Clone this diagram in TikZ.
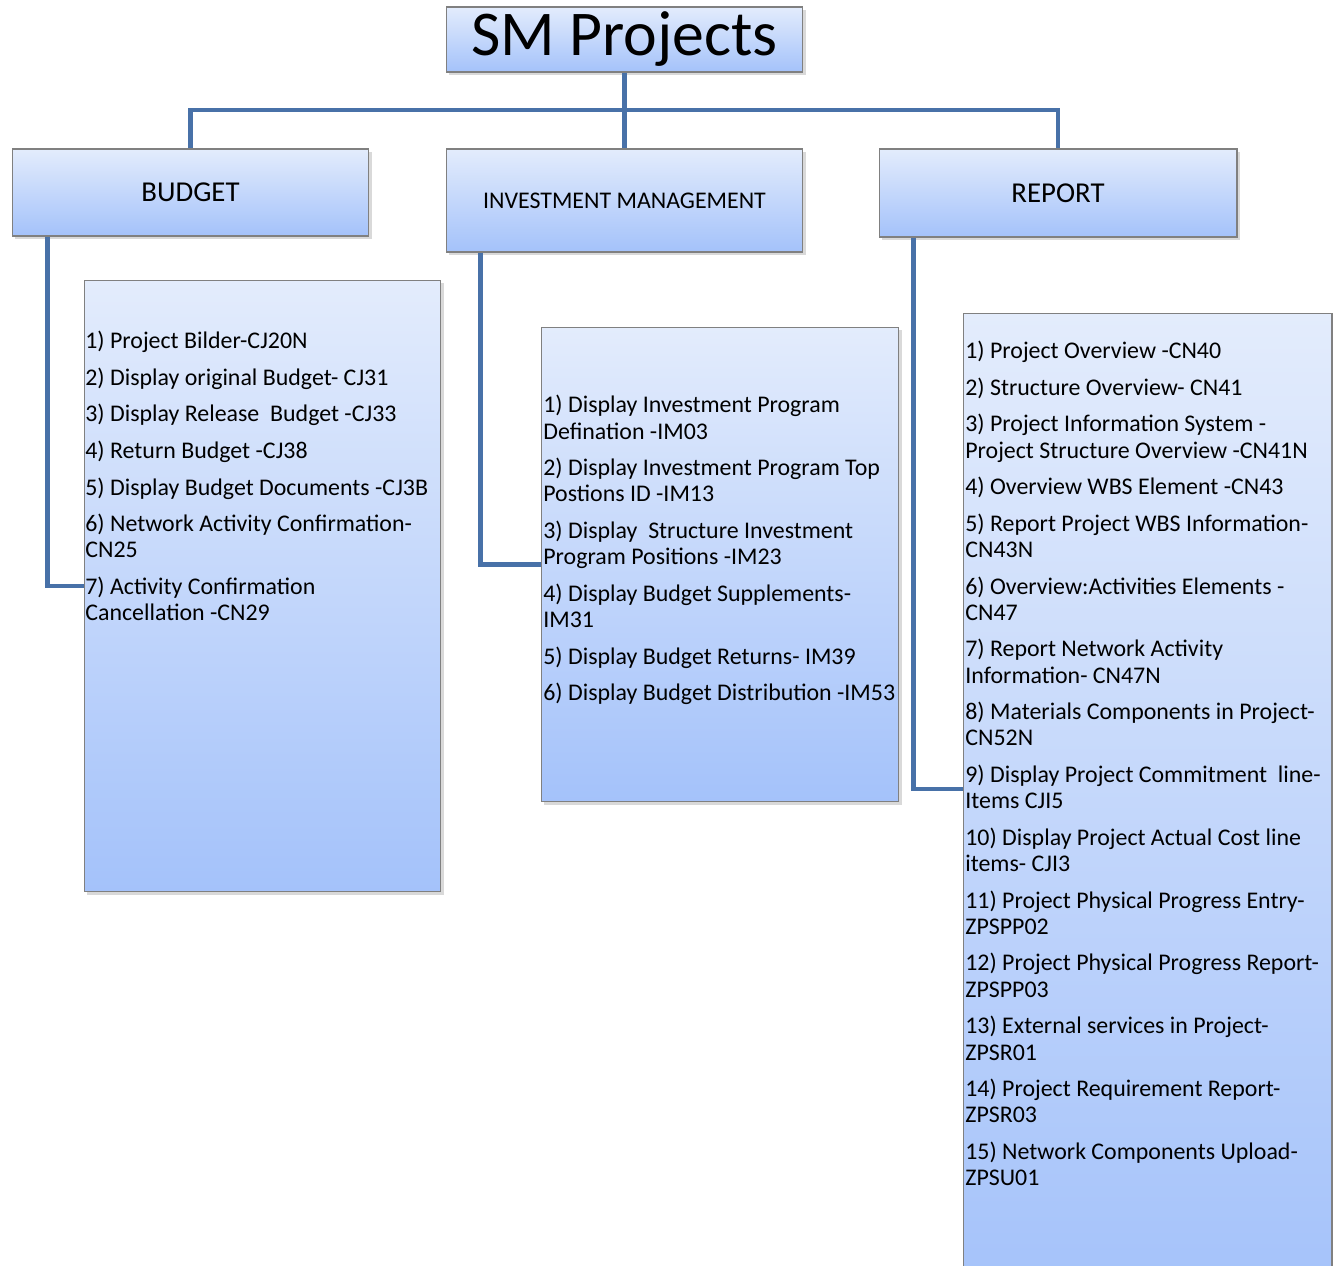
\documentclass[tikz,border=0pt]{standalone}
\usepackage{fontspec}
\setmainfont{Carlito}
\usepackage{tikz}
\usetikzlibrary{shadows}
\definecolor{boxtop}{RGB}{227,236,252}
\definecolor{boxbottom}{RGB}{164,194,250}
\definecolor{boxline}{RGB}{128,128,128}
\definecolor{linkblue}{RGB}{72,113,168}
\tikzset{
% Shaded boxes and the blue connectors of the chart
sm box/.style={rectangle,draw=boxline,line width=0.6pt,top color=boxtop,bottom color=boxbottom,
  drop shadow={opacity=0.3,shadow xshift=1.5pt,shadow yshift=-1.8pt},inner sep=0},
head text/.style={font=\fontsize{16.4}{19}\selectfont},
list text/.style={anchor=north west,inner sep=0,align=left,font=\fontsize{13.6}{14.95}\selectfont},
link/.style={draw=linkblue,line width=2.3pt}
}
\begin{document}
\begin{tikzpicture}[x=0.02cm,y=-0.02cm]
\useasboundingbox (0,0) rectangle (1333,1266);
% Top of the chart
\node(title)[sm box,minimum width=7.14cm,minimum height=1.3cm,font=\fontsize{36.3}{40}\selectfont] at (624.5,39.5){SM Projects};
% The three branches
\node(budget)[sm box,head text,minimum width=7.14cm,minimum height=1.74cm] at (190.5,192.5){BUDGET};
\node(invest)[sm box,minimum width=7.14cm,minimum height=2.06cm,font=\fontsize{13.6}{15}\selectfont] at (624.5,200.5){INVESTMENT MANAGEMENT};
\node(report)[sm box,head text,minimum width=7.16cm,minimum height=1.76cm] at (1058,193){REPORT};
% The lists
\node(budgetlist)[sm box,minimum width=7.14cm,minimum height=12.24cm] at (262.5,586){};
\node(investlist)[sm box,minimum width=7.16cm,minimum height=9.5cm] at (720,564.5){};
\node(reportlist)[sm box,minimum width=7.38cm,minimum height=19.8cm] at (1147.5,808){};
\node(budgettext)[list text] at (85,331){1) Project Bilder-CJ20N\\[5.85pt]
2) Display original Budget- CJ31\\[5.85pt]
3) Display Release~ Budget -CJ33\\[5.85pt]
4) Return Budget -CJ38\\[5.85pt]
5) Display Budget Documents -CJ3B\\[5.85pt]
6) Network Activity Confirmation-\\CN25\\[5.85pt]
7) Activity Confirmation\\Cancellation -CN29};
\node(investtext)[list text] at (543,395){1) Display Investment Program\\Defination -IM03\\[5.85pt]
2) Display Investment Program Top\\Postions ID -IM13\\[5.85pt]
3) Display~ Structure Investment\\Program Positions -IM23\\[5.85pt]
4) Display Budget Supplements-\\IM31\\[5.85pt]
5) Display Budget Returns- IM39\\[5.85pt]
6) Display Budget Distribution -IM53};
\node(reporttext)[list text] at (965,341){1) Project Overview -CN40\\[5.85pt]
2) Structure Overview- CN41\\[5.85pt]
3) Project Information System -\\Project Structure Overview -CN41N\\[5.85pt]
4) Overview WBS Element -CN43\\[5.85pt]
5) Report Project WBS Information-\\CN43N\\[5.85pt]
6) Overview:Activities Elements -\\CN47\\[5.85pt]
7) Report Network Activity\\Information- CN47N\\[5.85pt]
8) Materials Components in Project-\\CN52N\\[5.85pt]
9) Display Project Commitment~ line-\\Items CJI5\\[5.85pt]
10) Display Project Actual Cost line\\items- CJI3\\[5.85pt]
11) Project Physical Progress Entry-\\ZPSPP02\\[5.85pt]
12) Project Physical Progress Report-\\ZPSPP03\\[5.85pt]
13) External services in Project-\\ZPSR01\\[5.85pt]
14) Project Requirement Report-\\ZPSR03\\[5.85pt]
15) Network Components Upload-\\ZPSU01};
% Connectors
\coordinate(split) at (624.5,110);
\draw[link] (title.south) -- (split);
\draw[link] (split) -| (budget.north);
\draw[link] (split) -- (invest.north);
\draw[link] (split) -| (report.north);
\draw[link] ([xshift=0.72cm]budget.south west) |- (budgetlist.west);
\draw[link] ([xshift=0.7cm]invest.south west) |- (investlist.west);
\draw[link] ([xshift=0.7cm]report.south west) |- ([yshift=-9.54cm]reportlist.north west);
\end{tikzpicture}
\end{document}
